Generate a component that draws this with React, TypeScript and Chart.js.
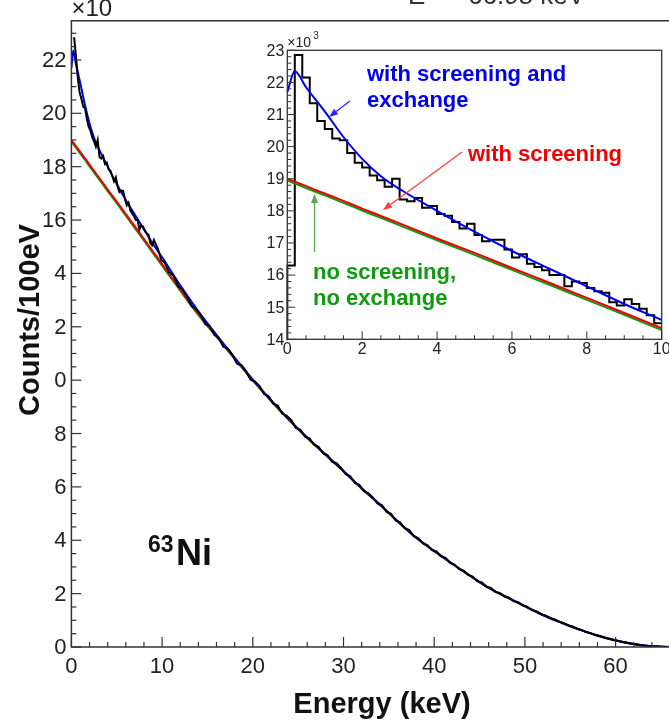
import { useEffect, useRef } from "react";
import { Chart, registerables } from "chart.js";
Chart.register(...registerables);

// ---------- data ----------
const fitEnergy = [0, 0.2, 0.5, 1, 1.5, 2, 2.5, 3, 4, 5, 6, 7, 8, 9, 10, 12, 14, 16, 18, 20, 22, 24, 26, 28, 30, 32, 34, 36, 38, 40, 42, 44, 46, 48, 50, 52, 54, 56, 58, 60, 62, 64, 66, 67];
const fitScreenExchange = [21.7, 22.35, 21.85, 21.1, 20.3, 19.62, 19.08, 18.68, 18.0, 17.35, 16.75, 16.2, 15.65, 15.1, 14.6, 13.55, 12.58, 11.7, 10.84, 10.02, 9.25, 8.52, 7.85, 7.22, 6.6, 5.95, 5.35, 4.7, 4.1, 3.6, 3.12, 2.66, 2.22, 1.87, 1.53, 1.2, 0.92, 0.66, 0.43, 0.25, 0.11, 0.03, 0.0, 0.0];
const fitScreen = [19.0, 18.91, 18.77, 18.54, 18.31, 18.07, 17.84, 17.61, 17.14, 16.69, 16.22, 15.76, 15.29, 14.82, 14.35, 13.4, 12.48, 11.65, 10.82, 10.0, 9.24, 8.51, 7.84, 7.21, 6.59, 5.94, 5.34, 4.7, 4.1, 3.6, 3.12, 2.66, 2.22, 1.87, 1.53, 1.2, 0.92, 0.66, 0.43, 0.25, 0.11, 0.03, 0.0, 0.0];
const fitNoScreen = [18.94, 18.85, 18.71, 18.48, 18.25, 18.01, 17.78, 17.55, 17.08, 16.63, 16.16, 15.7, 15.23, 14.76, 14.29, 13.35, 12.44, 11.62, 10.8, 9.98, 9.22, 8.5, 7.83, 7.2, 6.58, 5.93, 5.33, 4.69, 4.09, 3.59, 3.11, 2.65, 2.21, 1.86, 1.52, 1.19, 0.91, 0.65, 0.42, 0.24, 0.1, 0.02, 0.0, 0.0];

// low-energy histogram (0.2 keV bins from 0 to 10 keV), x10^3 counts
const INSET_BIN_WIDTH = 0.2;
const insetCounts = [
  16.3, 22.85, 22.15, 21.35, 20.8, 20.55, 20.25, 20.2, 19.8, 19.5,
  19.35, 19.1, 18.95, 18.75, 19.0, 18.35, 18.3, 18.4, 18.1, 18.15,
  17.9, 17.85, 17.65, 17.45, 17.6, 17.25, 17.05, 17.1, 17.1, 16.8,
  16.55, 16.65, 16.35, 16.25, 16.15, 16.0, 16.0, 15.65, 15.8, 15.75,
  15.6, 15.5, 15.45, 15.15, 15.05, 15.25, 15.1, 14.95, 14.75, 14.5,
];

// full-range histogram above 10 keV (0.5 keV bins), x10^3 counts
const MAIN_BIN_START = 10;
const MAIN_BIN_WIDTH = 0.5;
const mainCounts = [
  14.42, 14.05, 13.92, 13.52, 13.40, 13.10, 12.78, 12.66, 12.45, 12.10,
  12.02, 11.70, 11.58, 11.25, 11.18, 10.95, 10.62, 10.56, 10.34, 10.02,
  9.95, 9.78, 9.48, 9.40, 9.12, 9.05, 8.74, 8.66, 8.50, 8.21,
  8.14, 7.88, 7.82, 7.58, 7.50, 7.26, 7.18, 6.94, 6.88, 6.70,
  6.48, 6.40, 6.15, 6.08, 5.84, 5.76, 5.60, 5.38, 5.31, 5.06,
  4.99, 4.74, 4.66, 4.45, 4.38, 4.15, 4.08, 3.88, 3.82, 3.63,
  3.58, 3.40, 3.34, 3.15, 3.09, 2.92, 2.86, 2.70, 2.64, 2.47,
  2.42, 2.26, 2.21, 2.07, 2.02, 1.89, 1.85, 1.72, 1.68, 1.56,
  1.51, 1.38, 1.34, 1.23, 1.18, 1.08, 1.04, 0.95, 0.90, 0.81,
  0.77, 0.68, 0.64, 0.56, 0.52, 0.45, 0.41, 0.35, 0.31, 0.26,
  0.23, 0.19, 0.16, 0.12, 0.10, 0.07, 0.05, 0.04, 0.03, 0.02,
  0.01, 0.00,
];

const mainXTicks = [0, 10, 20, 30, 40, 50, 60];
const mainYTicks = [0, 2, 4, 6, 8, 10, 12, 14, 16, 18, 20, 22];
const mainYTickLabels = ["0", "2", "4", "6", "8", "0", "2", "4", "16", "18", "20", "22"];
const insetXTicks = [0, 2, 4, 6, 8, 10];
const insetYTicks = [14, 15, 16, 17, 18, 19, 20, 21, 22, 23];

// ---------- styling ----------
const FONT = "'Liberation Sans', Arial, Helvetica, sans-serif";
const BLUE = "#0000f0";
const RED = "#f00000";
const GREEN = "#0f9a0f";
const AXIS = "#333333";
const TEXT = "#222222";

function seg(ctx: CanvasRenderingContext2D, x1: number, y1: number, x2: number, y2: number) {
  ctx.beginPath();
  ctx.moveTo(x1, y1);
  ctx.lineTo(x2, y2);
  ctx.stroke();
}

function arrow(ctx: CanvasRenderingContext2D, x1: number, y1: number, x2: number, y2: number, color: string) {
  ctx.save();
  ctx.strokeStyle = color;
  ctx.fillStyle = color;
  ctx.lineWidth = 1.3;
  const ang = Math.atan2(y2 - y1, x2 - x1);
  const hl = 9, hw = 3.5;
  const bx = x2 - hl * Math.cos(ang), by = y2 - hl * Math.sin(ang);
  seg(ctx, x1, y1, bx, by);
  ctx.beginPath();
  ctx.moveTo(x2, y2);
  ctx.lineTo(bx + hw * Math.sin(ang), by - hw * Math.cos(ang));
  ctx.lineTo(bx - hw * Math.sin(ang), by + hw * Math.cos(ang));
  ctx.closePath();
  ctx.fill();
  ctx.restore();
}

const mainDecor = {
  id: "mainDecor",
  afterDraw(chart: any) {
    const { ctx, chartArea: a, scales } = chart;
    const xs = scales.x, ys = scales.y;
    ctx.save();
    ctx.strokeStyle = AXIS;
    ctx.lineWidth = 1.5;
    ctx.beginPath();
    ctx.moveTo(a.right, a.top);
    ctx.lineTo(a.left, a.top);
    ctx.lineTo(a.left, a.bottom);
    ctx.lineTo(a.right, a.bottom);
    ctx.stroke();
    ctx.lineWidth = 1.2;
    for (let i = 0; i * 2 <= xs.max; i++) {
      const v = i * 2;
      const px = xs.getPixelForValue(v);
      seg(ctx, px, a.bottom, px, a.bottom - (v % 10 === 0 ? 10 : 5));
    }
    for (let i = 0; i * 0.5 <= ys.max; i++) {
      const v = i * 0.5;
      const py = ys.getPixelForValue(v);
      seg(ctx, a.left, py, a.left + (i % 4 === 0 ? 10 : 5), py);
    }
    ctx.fillStyle = TEXT;
    ctx.font = `22px ${FONT}`;
    ctx.textAlign = "right";
    ctx.textBaseline = "middle";
    mainYTicks.forEach((v, i) => ctx.fillText(mainYTickLabels[i], a.left - 5, ys.getPixelForValue(v) + 1));
    ctx.textAlign = "center";
    ctx.textBaseline = "top";
    mainXTicks.forEach((v) => ctx.fillText(String(v), xs.getPixelForValue(v), a.bottom + 9));
    // exponent (clipped at the page top)
    ctx.textAlign = "left";
    ctx.textBaseline = "alphabetic";
    ctx.font = `24px ${FONT}`;
    ctx.fillText("\u00d710", a.left, 16);
    ctx.font = `15px ${FONT}`;
    ctx.fillText("3", a.left + 41, 0);
    // clipped top text
    ctx.font = `26px ${FONT}`;
    ctx.fillStyle = "#333";
    ctx.fillText("E", 408, 4);
    ctx.fillText("=", 438, 4);
    ctx.fillText("66.98 keV", 468, 4);
    // axis titles
    ctx.fillStyle = "#111";
    ctx.font = `bold 29px ${FONT}`;
    ctx.textAlign = "center";
    ctx.fillText("Energy (keV)", 382, 713);
    ctx.save();
    ctx.translate(39, 320);
    ctx.rotate(-Math.PI / 2);
    ctx.fillText("Counts/100eV", 0, 0);
    ctx.restore();
    // isotope label
    ctx.textAlign = "left";
    ctx.font = `bold 23px ${FONT}`;
    ctx.fillText("63", 148, 552);
    ctx.font = `bold 36px ${FONT}`;
    ctx.fillText("Ni", 176, 565);
    ctx.restore();
  },
};

const insetDecor = {
  id: "insetDecor",
  afterDraw(chart: any) {
    const { ctx, chartArea: a, scales } = chart;
    const xs = scales.x, ys = scales.y;
    ctx.save();
    ctx.strokeStyle = AXIS;
    ctx.lineWidth = 1.3;
    ctx.strokeRect(a.left, a.top, a.right - a.left, a.bottom - a.top);
    ctx.lineWidth = 1;
    for (let i = 0; i * 0.5 <= xs.max + 1e-9; i++) {
      const px = xs.getPixelForValue(i * 0.5);
      seg(ctx, px, a.bottom, px, a.bottom - (i % 4 === 0 ? 8 : 4));
    }
    for (let i = 0; ys.min + i * 0.2 <= ys.max + 1e-9; i++) {
      const py = ys.getPixelForValue(ys.min + i * 0.2);
      seg(ctx, a.left, py, a.left + (i % 5 === 0 ? 8 : 4), py);
    }
    ctx.fillStyle = TEXT;
    ctx.font = `16px ${FONT}`;
    ctx.textAlign = "right";
    ctx.textBaseline = "middle";
    insetYTicks.forEach((v) => ctx.fillText(String(v), a.left - 3, ys.getPixelForValue(v) + 1));
    ctx.textAlign = "center";
    ctx.textBaseline = "top";
    insetXTicks.forEach((v) => ctx.fillText(String(v), xs.getPixelForValue(v), a.bottom + 2));
    ctx.textAlign = "left";
    ctx.textBaseline = "alphabetic";
    ctx.font = `14px ${FONT}`;
    ctx.fillText("\u00d710", a.left, 47);
    ctx.font = `10px ${FONT}`;
    ctx.fillText("3", a.left + 26, 39);
    // annotations
    ctx.font = `bold 22px ${FONT}`;
    ctx.fillStyle = BLUE;
    ctx.fillText("with screening and", 367, 81);
    ctx.fillText("exchange", 367, 107);
    ctx.fillStyle = RED;
    ctx.fillText("with screening", 468, 161);
    ctx.fillStyle = GREEN;
    ctx.fillText("no screening,", 313, 279);
    ctx.fillText("no exchange", 313, 305);
    ctx.restore();
    arrow(ctx, 350, 101, 329, 117, "#2a2aff");
    arrow(ctx, 462, 152, 383, 210, "#ff4040");
    arrow(ctx, 314.5, 252, 314.5, 194, "#55aa55");
  },
};

function fitData(vals: number[]) {
  return fitEnergy.map((e, i) => ({ x: e, y: vals[i] }));
}

export default function App() {
  const mainRef = useRef<HTMLCanvasElement>(null);
  const insetRef = useRef<HTMLCanvasElement>(null);

  useEffect(() => {
    const insetHist = [{ x: 0, y: 0 }, ...insetCounts.map((v, i) => ({ x: i * INSET_BIN_WIDTH, y: v })), { x: insetCounts.length * INSET_BIN_WIDTH, y: insetCounts[insetCounts.length - 1] }];
    const mainHist = [
      ...insetCounts.slice(1).map((v, i) => ({ x: (i + 1.5) * INSET_BIN_WIDTH, y: v })),
      ...mainCounts.map((v, i) => ({ x: MAIN_BIN_START + (i + 0.5) * MAIN_BIN_WIDTH, y: v })),
    ];
    const fitStyle = { pointRadius: 0, borderWidth: 2, cubicInterpolationMode: "monotone" as const, fill: false };

    const main = new Chart(mainRef.current!, {
      type: "line",
      data: {
        datasets: [
          { data: mainHist, borderColor: "#000", borderWidth: 2, pointRadius: 0, tension: 0, order: 0 },
          { data: fitData(fitScreenExchange), borderColor: BLUE, order: 1, ...fitStyle },
          { data: fitData(fitScreen), borderColor: RED, order: 2, ...fitStyle },
          { data: fitData(fitNoScreen), borderColor: GREEN, order: 3, ...fitStyle },
        ],
      },
      options: {
        animation: false,
        responsive: false,
        devicePixelRatio: 1,
        layout: { padding: { left: 71.4, top: 20.7, right: 10.9, bottom: 74 } },
        scales: {
          x: { type: "linear", min: 0, max: 67, display: false },
          y: { type: "linear", min: 0, max: 23.47, display: false },
        },
        plugins: { legend: { display: false }, tooltip: { enabled: false } },
      },
      plugins: [mainDecor],
    } as any);

    const inset = new Chart(insetRef.current!, {
      type: "line",
      data: {
        datasets: [
          { data: insetHist, borderColor: "#000", borderWidth: 2, pointRadius: 0, stepped: "before", order: 3, clip: 1 },
          { data: fitData(fitNoScreen), borderColor: GREEN, order: 2, clip: 1, ...fitStyle },
          { data: fitData(fitScreen), borderColor: RED, order: 1, clip: 1, ...fitStyle },
          { data: fitData(fitScreenExchange), borderColor: BLUE, order: 0, clip: 1, ...fitStyle },
        ],
      },
      options: {
        animation: false,
        responsive: false,
        devicePixelRatio: 1,
        layout: { padding: { left: 287.3, top: 50.3, right: 28.3, bottom: 381.7 } },
        scales: {
          x: { type: "linear", min: 0, max: 10, display: false },
          y: { type: "linear", min: 14, max: 23, display: false },
        },
        plugins: { legend: { display: false }, tooltip: { enabled: false } },
      },
      plugins: [insetDecor],
    } as any);

    return () => {
      main.destroy();
      inset.destroy();
    };
  }, []);

  return (
    <div style={{ position: "fixed", left: 0, top: 0, width: 669, height: 721, overflow: "hidden", background: "#fff" }}>
      <canvas ref={mainRef} width={690} height={721} style={{ position: "absolute", left: 0, top: 0 }} />
      <canvas ref={insetRef} width={690} height={721} style={{ position: "absolute", left: 0, top: 0 }} />
    </div>
  );
}
